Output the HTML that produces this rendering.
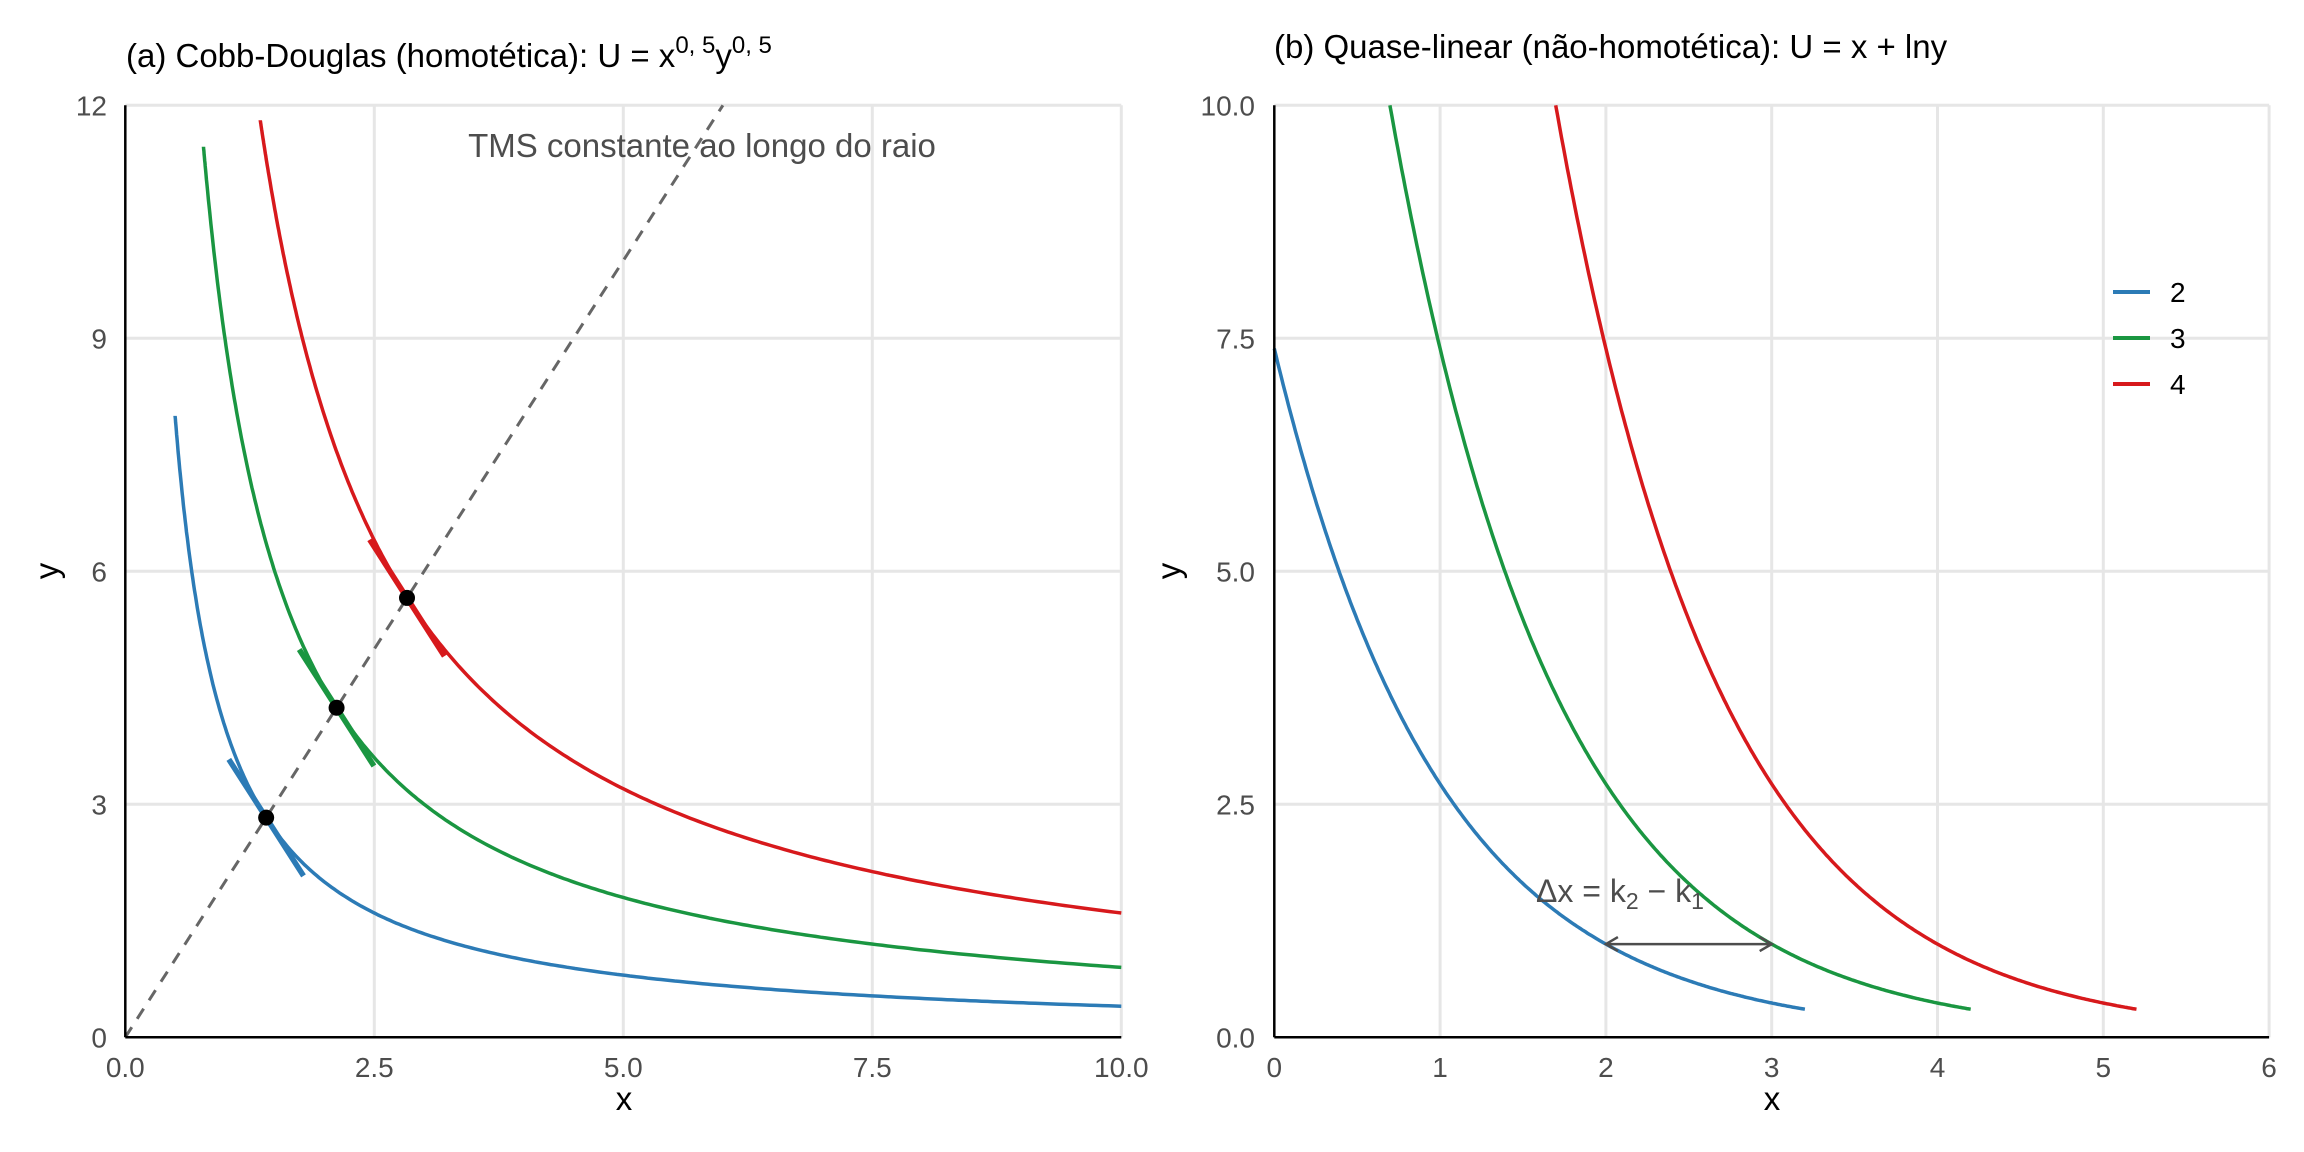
<!DOCTYPE html>
<html><head><meta charset="utf-8"><style>
html,body{margin:0;padding:0;background:#fff;}
svg{display:block;font-family:"Liberation Sans",Arial,sans-serif;}
</style></head><body>
<svg id="s" width="2304" height="1152" viewBox="0 0 2304 1152" xmlns="http://www.w3.org/2000/svg">
<rect width="2304" height="1152" fill="#fff"/>
<g id="g"></g>
<text x="126" y="67" font-size="33" fill="#000">(a) Cobb-Douglas (homotética): U = x<tspan dy="-14" font-size="24">0, 5</tspan><tspan dy="14">y</tspan><tspan dy="-14" font-size="24">0, 5</tspan></text>
<text x="1274" y="58" font-size="33" fill="#000">(b) Quase-linear (não-homotética): U = x + lny</text>
<text x="702" y="157" font-size="33" fill="#4d4d4d" text-anchor="middle">TMS constante ao longo do raio</text>
<text x="1536" y="902" font-size="32" fill="#4d4d4d">Δx = k<tspan font-size="23" dy="7">2</tspan><tspan dy="-7"> − k</tspan><tspan font-size="23" dy="7">1</tspan></text>
<text x="624" y="1110" font-size="33" text-anchor="middle">x</text>
<text x="1772" y="1110" font-size="33" text-anchor="middle">x</text>
<text transform="translate(58,571) rotate(-90)" font-size="33" text-anchor="middle">y</text>
<text transform="translate(1180,571) rotate(-90)" font-size="33" text-anchor="middle">y</text>
<line x1="2113" y1="292" x2="2150" y2="292" stroke="#2c7bb6" stroke-width="4"/>
<line x1="2113" y1="338" x2="2150" y2="338" stroke="#1a9641" stroke-width="4"/>
<line x1="2113" y1="384" x2="2150" y2="384" stroke="#d7191c" stroke-width="4"/>
<text x="2170" y="302" font-size="28">2</text>
<text x="2170" y="348" font-size="28">3</text>
<text x="2170" y="394" font-size="28">4</text>
</svg>
<script>
const NS="http://www.w3.org/2000/svg",g=document.getElementById('g');
function el(t,a,txt){const e=document.createElementNS(NS,t);for(const k in a)e.setAttribute(k,a[k]);if(txt!=null)e.textContent=txt;g.appendChild(e);return e;}
const C=['#2c7bb6','#1a9641','#d7191c'];
const LX=x=>125.3+99.6*x, LY=y=>1037.3-77.67*y;
[2.5,5,7.5,10].forEach(v=>el('line',{x1:LX(v),x2:LX(v),y1:LY(0),y2:LY(12),stroke:'#e6e6e6','stroke-width':3}));
[3,6,9,12].forEach(v=>el('line',{x1:LX(0),x2:LX(10),y1:LY(v),y2:LY(v),stroke:'#e6e6e6','stroke-width':3}));
['0.0','2.5','5.0','7.5','10.0'].forEach((t,i)=>el('text',{x:LX(i*2.5),y:1077,'font-size':28,fill:'#4d4d4d','text-anchor':'middle'},t));
['0','3','6','9','12'].forEach((t,i)=>el('text',{x:107,y:LY(i*3)+10,'font-size':28,fill:'#4d4d4d','text-anchor':'end'},t));
el('line',{x1:LX(0),y1:LY(0),x2:LX(6),y2:LY(12),stroke:'#666','stroke-width':3,'stroke-dasharray':'12,10'});
[2,3,4].forEach((U,i)=>{const k=U*U;let x0=[0.5,0.785,1.355][i];let d='';for(let j=0;j<=300;j++){const x=x0+(10-x0)*Math.pow(j/300,2);d+=(j?'L':'M')+LX(x).toFixed(1)+','+LY(k/x).toFixed(1);}
el('path',{d,fill:'none',stroke:C[i],'stroke-width':3.5});});
[2,3,4].forEach((U,i)=>{const px=U/Math.SQRT2,py=2*px,dx=0.375;
el('line',{x1:LX(px-dx),y1:LY(py+2*dx),x2:LX(px+dx),y2:LY(py-2*dx),stroke:C[i],'stroke-width':5.5});});
[2,3,4].forEach((U,i)=>{const px=U/Math.SQRT2;el('circle',{cx:LX(px),cy:LY(2*px),r:8,fill:'#000'});});
el('line',{x1:LX(0),y1:LY(0),x2:LX(0),y2:LY(12),stroke:'#000','stroke-width':2.5});
el('line',{x1:LX(0),y1:LY(0),x2:LX(10),y2:LY(0),stroke:'#000','stroke-width':2.5});
const RX=x=>1274.3+165.8*x, RY=y=>1037.3-93.2*y;
[1,2,3,4,5,6].forEach(v=>el('line',{x1:RX(v),x2:RX(v),y1:RY(0),y2:RY(10),stroke:'#e6e6e6','stroke-width':3}));
[2.5,5,7.5,10].forEach(v=>el('line',{x1:RX(0),x2:RX(6),y1:RY(v),y2:RY(v),stroke:'#e6e6e6','stroke-width':3}));
['0','1','2','3','4','5','6'].forEach((t,i)=>el('text',{x:RX(i),y:1077,'font-size':28,fill:'#4d4d4d','text-anchor':'middle'},t));
['0.0','2.5','5.0','7.5','10.0'].forEach((t,i)=>el('text',{x:1255,y:RY(i*2.5)+10,'font-size':28,fill:'#4d4d4d','text-anchor':'end'},t));
[2,3,4].forEach((k,i)=>{const x0=Math.max(0,k-Math.log(10)),x1=k+1.2;let d='';for(let j=0;j<=300;j++){const x=x0+(x1-x0)*j/300;d+=(j?'L':'M')+RX(x).toFixed(1)+','+RY(Math.exp(k-x)).toFixed(1);}
el('path',{d,fill:'none',stroke:C[i],'stroke-width':3.5});});
const ay=RY(1),ax1=RX(2),ax2=RX(3);
el('path',{d:`M${ax1},${ay}L${ax2},${ay}M${ax1+12},${ay-7}L${ax1},${ay}L${ax1+12},${ay+7}M${ax2-12},${ay-7}L${ax2},${ay}L${ax2-12},${ay+7}`,fill:'none',stroke:'#4d4d4d','stroke-width':2.5});
el('line',{x1:RX(0),y1:RY(0),x2:RX(0),y2:RY(10),stroke:'#000','stroke-width':2.5});
el('line',{x1:RX(0),y1:RY(0),x2:RX(6),y2:RY(0),stroke:'#000','stroke-width':2.5});
</script>
</body></html>
